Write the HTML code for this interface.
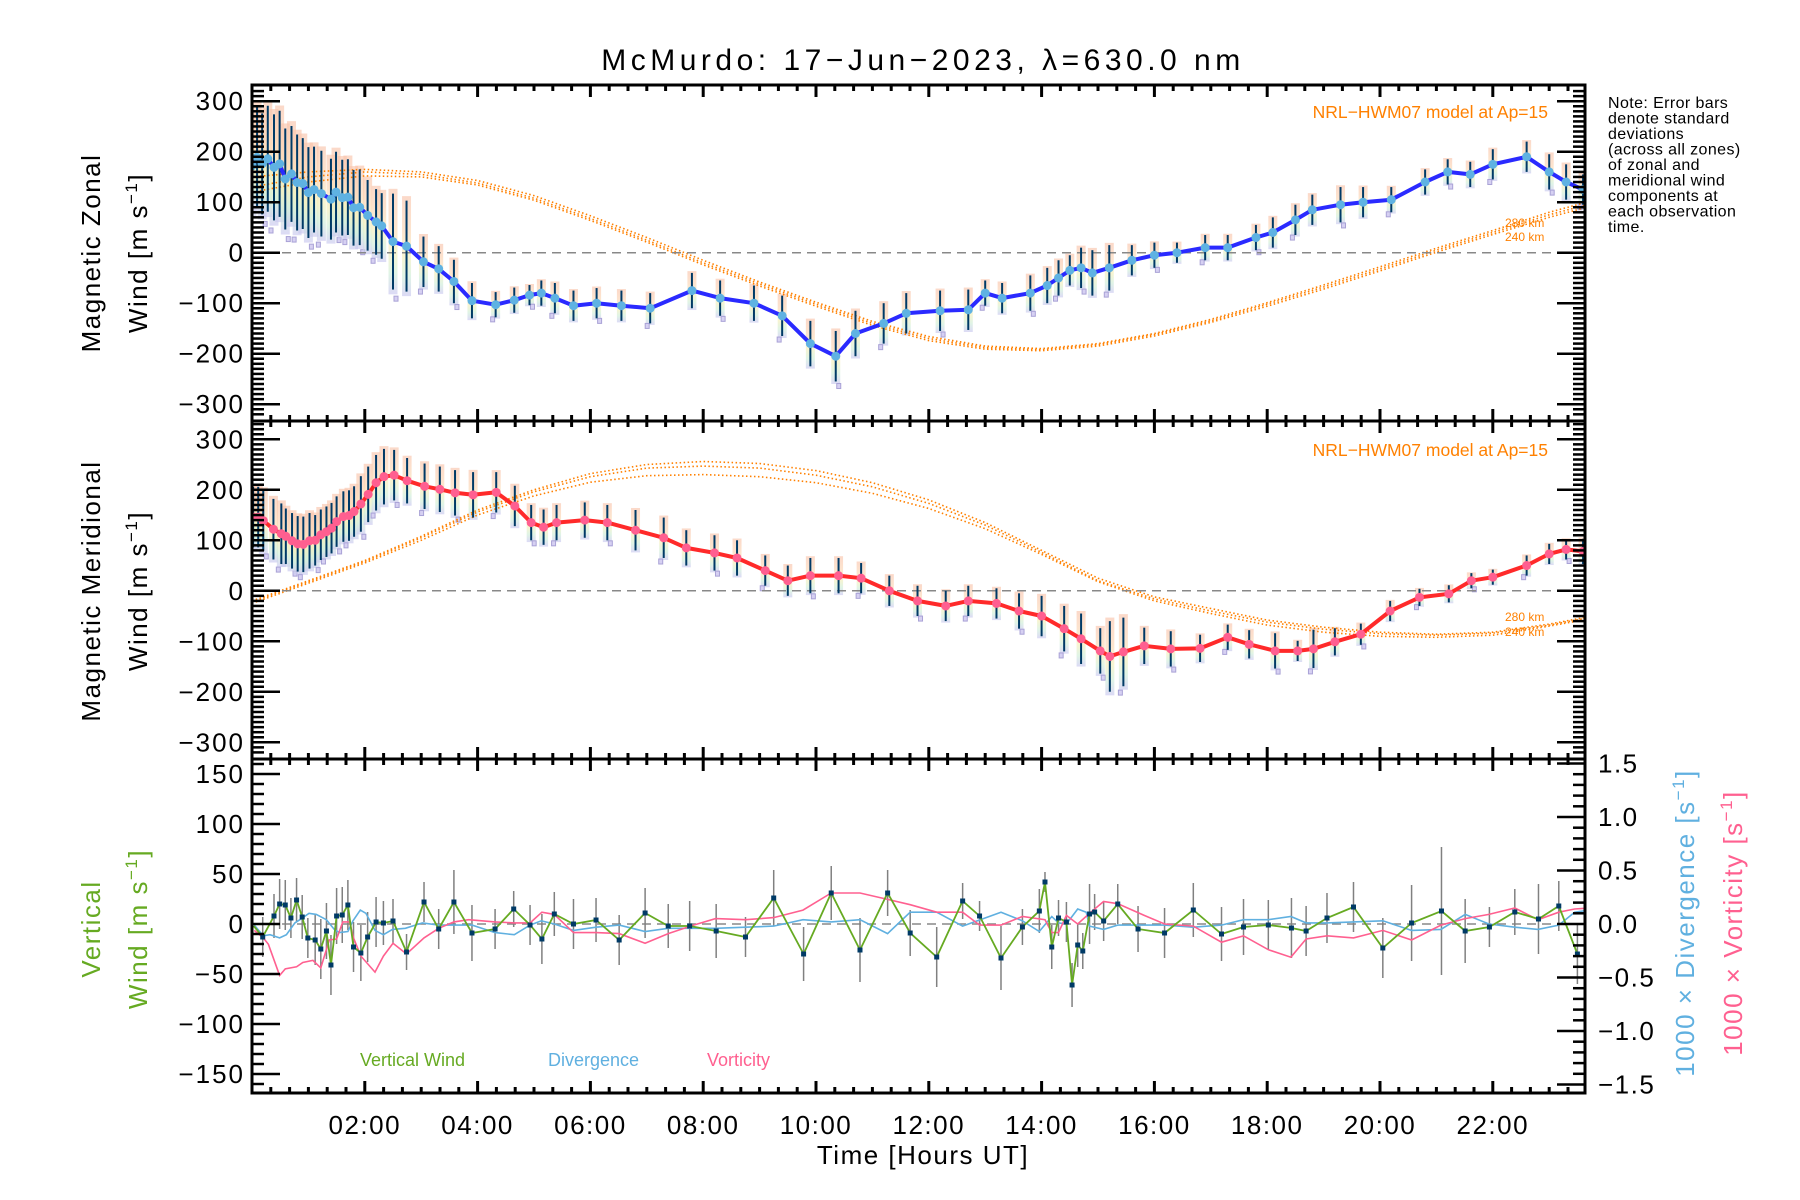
<!DOCTYPE html>
<html><head><meta charset="utf-8"><style>
html,body{margin:0;padding:0;background:#fff;}
svg{display:block;font-family:"Liberation Sans",sans-serif;}
</style></head><body>
<svg id="chart" width="1800" height="1200" viewBox="0 0 1800 1200" xmlns="http://www.w3.org/2000/svg">
<defs>
<linearGradient id="pastel" x1="0" y1="0" x2="0" y2="1">
<stop offset="0" stop-color="#f9c4ac"/><stop offset="0.35" stop-color="#fbd6b4"/><stop offset="0.6" stop-color="#f4efb8"/><stop offset="0.8" stop-color="#cfeed8"/><stop offset="1" stop-color="#c9c6f0"/>
</linearGradient>
<clipPath id="c1"><rect x="252" y="85" width="1333" height="336"/></clipPath>
<clipPath id="c2"><rect x="252" y="421" width="1333" height="338"/></clipPath>
<clipPath id="c3"><rect x="252" y="759" width="1333" height="334"/></clipPath>
</defs>
<text x="923" y="70" text-anchor="middle" font-size="30" letter-spacing="4.5">McMurdo: 17−Jun−2023, λ=630.0 nm</text>
<g id="g1" clip-path="url(#c1)"></g>
<g id="g2" clip-path="url(#c2)"></g>
<g id="g3" clip-path="url(#c3)"></g>
<g id="axes"></g>
<text x="1548" y="118" text-anchor="end" font-size="17.5" fill="#ff8000">NRL−HWM07 model at Ap=15</text>
<text x="1548" y="456" text-anchor="end" font-size="17.5" fill="#ff8000">NRL−HWM07 model at Ap=15</text>
<text x="1505" y="227" font-size="12" fill="#ff8000">280 km</text>
<text x="1505" y="241" font-size="12" fill="#ff8000">240 km</text>
<text x="1505" y="621" font-size="12" fill="#ff8000">280 km</text>
<text x="1505" y="636" font-size="12" fill="#ff8000">240 km</text>
<g font-size="16" letter-spacing="0.4">
<text x="1608" y="108">Note: Error bars</text><text x="1608" y="123.5">denote standard</text><text x="1608" y="139">deviations</text><text x="1608" y="154.5">(across all zones)</text><text x="1608" y="170">of zonal and</text><text x="1608" y="185.5">meridional wind</text><text x="1608" y="201">components at</text><text x="1608" y="216.5">each observation</text><text x="1608" y="232">time.</text>
</g>
<g font-size="26" letter-spacing="1.5">
<text transform="translate(100,253) rotate(-90)" text-anchor="middle">Magnetic Zonal</text>
<text transform="translate(147,253) rotate(-90)" text-anchor="middle">Wind [m s<tspan font-size="17" dy="-10">−1</tspan><tspan dy="10">]</tspan></text>
<text transform="translate(100,591) rotate(-90)" text-anchor="middle">Magnetic Meridional</text>
<text transform="translate(147,591) rotate(-90)" text-anchor="middle">Wind [m s<tspan font-size="17" dy="-10">−1</tspan><tspan dy="10">]</tspan></text>
<text transform="translate(100,929) rotate(-90)" text-anchor="middle" fill="#66aa22">Vertical</text>
<text transform="translate(147,929) rotate(-90)" text-anchor="middle" fill="#66aa22">Wind [m s<tspan font-size="17" dy="-10">−1</tspan><tspan dy="10">]</tspan></text>
<text transform="translate(1694,923) rotate(-90)" text-anchor="middle" fill="#60b0e0">1000 × Divergence [s<tspan font-size="17" dy="-10">−1</tspan><tspan dy="10">]</tspan></text>
<text transform="translate(1742,923) rotate(-90)" text-anchor="middle" fill="#ff6090">1000 × Vorticity [s<tspan font-size="17" dy="-10">−1</tspan><tspan dy="10">]</tspan></text>
<text x="923" y="1164" text-anchor="middle">Time [Hours UT]</text>
</g>
<text x="360" y="1066" font-size="18" fill="#66aa22">Vertical Wind</text>
<text x="548" y="1066" font-size="18" fill="#60b0e0">Divergence</text>
<text x="707" y="1066" font-size="18" fill="#ff6090">Vorticity</text>
</svg>
<script>
// ---- data ----
const zH=[0.0,0.09,0.18,0.28,0.39,0.49,0.59,0.70,0.80,0.90,1.00,1.10,1.23,1.40,1.49,1.60,1.70,1.80,1.91,2.05,2.20,2.30,2.50,2.74,3.04,3.31,3.58,3.90,4.32,4.65,4.92,5.13,5.37,5.70,6.11,6.55,7.06,7.8,8.3,8.9,9.4,9.9,10.35,10.7,11.2,11.6,12.2,12.7,13.0,13.3,13.8,14.1,14.3,14.5,14.7,14.9,15.2,15.6,16.0,16.4,16.9,17.3,17.8,18.1,18.5,18.8,19.3,19.7,20.2,20.8,21.2,21.6,22.0,22.6,23.0,23.3,23.6];
const zV=[172,189,176,186,169,176,146,156,139,137,119,125,117,106,120,109,110,89,90,74,61,53,22,13,-18,-32,-57,-95,-103,-94,-84,-80,-90,-105,-100,-105,-110,-75,-90,-100,-125,-180,-205,-160,-140,-120,-115,-113,-80,-90,-80,-65,-50,-35,-30,-40,-30,-15,-5,0,10,10,30,40,65,85,95,100,105,140,160,155,175,190,160,140,125];
const zE=[95,100,100,105,105,105,100,95,95,90,90,85,85,80,80,75,75,75,75,70,65,65,95,90,50,45,43,35,25,25,20,25,30,30,30,30,30,35,35,35,40,45,50,45,40,40,40,40,25,30,35,35,35,30,40,45,45,30,25,20,25,25,25,30,30,30,35,30,25,25,25,25,30,30,35,35,30];
const mH=[0.02,0.11,0.20,0.38,0.52,0.60,0.71,0.81,0.91,1.02,1.12,1.22,1.32,1.41,1.50,1.62,1.72,1.81,1.93,2.06,2.20,2.34,2.52,2.75,3.06,3.33,3.60,3.92,4.33,4.66,4.95,5.17,5.4,5.9,6.3,6.8,7.3,7.7,8.2,8.6,9.1,9.5,9.9,10.4,10.8,11.3,11.8,12.3,12.7,13.2,13.6,14.0,14.4,14.7,15.04,15.21,15.45,15.82,16.29,16.81,17.30,17.68,18.14,18.54,18.82,19.20,19.66,20.18,20.70,21.22,21.62,22.0,22.6,23.0,23.3,23.6];
const mV=[146,146,139,122,113,108,99,93,92,99,100,111,117,124,137,147,149,157,172,191,214,226,229,218,207,201,194,190,195,168,135,126,135,140,135,120,105,85,75,65,40,20,30,30,25,0,-20,-30,-20,-25,-40,-50,-75,-95,-119,-130,-121,-109,-115,-114,-92,-106,-119,-119,-115,-101,-86,-40,-13,-6,20,27,50,73,82,78];
const mE=[60,60,60,60,60,55,55,55,55,55,50,50,50,50,50,50,50,50,55,55,55,55,50,45,45,45,45,45,40,40,35,35,35,35,35,40,40,35,35,35,30,30,35,35,30,30,30,30,30,30,35,40,45,50,45,70,68,36,35,27,25,28,35,20,38,27,21,20,17,17,15,15,20,20,20,25];
const modelHours=[0,1,2,3,4,5,6,7,8,9,10,11,12,13,14,15,16,17,18,19,20,21,22,23,24];
const mzA=[150,160,165,160,143,113,73,30,-15,-58,-98,-136,-166,-185,-190,-180,-160,-132,-99,-64,-28,9,44,80,110];
const mzB=[130,150,160,155,138,108,68,25,-20,-62,-102,-140,-170,-188,-192,-182,-162,-135,-102,-68,-32,5,40,75,105];
const mzC=[120,140,152,150,134,104,64,21,-24,-66,-106,-144,-174,-191,-194,-185,-165,-138,-106,-72,-36,1,36,70,100];
const mmA=[-20,20,60,108,160,200,232,250,256,252,238,214,180,135,80,25,-12,-35,-58,-72,-82,-86,-82,-66,-45];
const mmB=[-22,18,58,105,156,196,226,243,247,243,229,206,173,130,76,20,-16,-40,-62,-76,-85,-88,-84,-68,-47];
const mmC=[-25,15,55,100,150,188,215,228,230,226,214,193,163,123,72,18,-20,-45,-68,-82,-90,-92,-88,-70,-50];
const vH=[0.03,0.19,0.39,0.49,0.59,0.69,0.79,0.89,0.99,1.12,1.22,1.32,1.40,1.50,1.60,1.70,1.80,1.93,2.05,2.20,2.33,2.50,2.74,3.05,3.31,3.58,3.90,4.31,4.64,4.93,5.14,5.36,5.70,6.10,6.51,6.97,7.38,7.76,8.23,8.75,9.25,9.78,10.27,10.78,11.27,11.67,12.14,12.60,12.90,13.28,13.66,13.96,14.06,14.18,14.30,14.44,14.54,14.64,14.73,14.85,14.94,15.10,15.35,15.71,16.18,16.69,17.19,17.58,18.02,18.43,18.69,19.06,19.53,20.05,20.56,21.09,21.51,21.94,22.39,22.81,23.17,23.5];
const vV=[-2,-13,8,20,19,6,24,7,-14,-16,-25,-7,-41,8,9,19,-23,-29,-13,2,1,3,-28,22,-5,22,-9,-5,15,-1,-15,10,0,4,-16,11,-2,-2,-7,-13,26,-30,31,-26,31,-9,-33,23,8,-34,-3,13,42,-23,6,2,-61,-21,-27,10,12,3,20,-5,-9,14,-10,-3,-1,-4,-7,6,17,-24,1,13,-7,-3,12,5,18,-30];
const vE=[0,20,22,25,25,20,22,22,20,25,30,28,30,28,28,25,25,28,25,25,22,22,18,20,20,32,28,20,18,20,25,22,25,22,25,25,22,25,27,20,28,27,27,32,23,23,30,18,15,32,18,22,10,22,18,20,22,22,18,30,18,20,20,23,25,27,27,28,25,30,25,25,25,30,38,64,32,20,23,35,25,30,0];
const dH=[0.04,0.20,0.32,0.49,0.61,0.76,0.85,1.01,1.14,1.32,1.46,1.55,1.70,1.79,1.92,2.02,2.18,2.33,2.49,2.72,3.02,3.31,3.90,4.31,4.65,4.93,5.13,5.36,5.70,6.10,6.51,6.97,7.38,7.83,8.22,8.75,9.25,9.77,10.27,10.78,11.27,11.67,12.14,12.60,13.28,13.66,13.96,14.18,14.30,14.44,14.64,14.79,14.85,15.10,15.35,15.82,16.18,16.69,17.19,17.58,18.02,18.42,18.69,19.06,19.53,20.05,20.56,21.08,21.51,21.93,22.39,22.80,23.17,23.45,23.7];
const dV=[-0.01,-0.11,-0.10,-0.13,-0.10,0.01,0.04,0.10,0.09,0.04,-0.05,-0.08,-0.07,0.03,0.13,0.10,-0.06,-0.10,-0.05,-0.04,0.01,-0.01,-0.01,-0.08,-0.10,-0.01,0.03,0.00,-0.06,-0.03,-0.01,-0.07,-0.04,-0.04,-0.04,-0.03,-0.02,0.04,0.02,0.04,-0.09,0.11,0.11,-0.02,0.11,0.03,-0.07,0.07,0.01,0.00,0.14,0.11,-0.02,-0.05,-0.01,-0.01,-0.01,-0.03,-0.01,0.04,0.04,0.07,0.01,0.01,0.02,0.03,-0.06,-0.05,0.09,0.00,-0.03,-0.05,-0.01,0.11,0.13];
const wH=[0.04,0.20,0.29,0.49,0.59,0.79,0.90,1.08,1.22,1.37,1.50,1.61,1.73,1.80,1.93,2.18,2.33,2.50,2.74,3.05,3.31,3.58,3.84,4.31,4.65,4.93,5.14,5.36,5.70,6.10,6.51,6.97,7.38,7.83,8.22,8.75,9.25,9.77,10.27,10.78,11.27,11.67,12.14,12.60,12.90,13.28,13.66,14.06,14.18,14.30,14.44,14.64,14.85,15.10,15.35,15.82,16.18,16.69,17.19,17.58,18.02,18.42,18.69,19.06,19.53,20.05,20.56,21.08,21.51,21.93,22.39,22.80,23.17,23.45,23.7];
const wV=[-0.06,-0.13,-0.19,-0.48,-0.42,-0.40,-0.36,-0.34,-0.41,-0.15,-0.14,0.02,0.02,-0.13,-0.30,-0.45,-0.30,-0.18,-0.28,-0.13,-0.04,0.02,0.04,0.02,0.01,0.01,0.11,0.09,-0.08,-0.08,-0.09,-0.18,-0.09,-0.01,0.05,0.04,0.06,0.13,0.29,0.29,0.23,0.18,0.11,0.11,-0.01,-0.01,0.07,0.04,-0.08,-0.08,0.08,0.00,0.10,0.21,0.19,0.08,0.00,-0.02,-0.17,-0.11,-0.24,-0.31,-0.14,-0.11,-0.13,-0.06,-0.15,-0.01,0.05,0.09,0.15,0.04,0.11,0.14,0.15];
const xTickLabels=["02:00","04:00","06:00","08:00","10:00","12:00","14:00","16:00","18:00","20:00","22:00"];
const windTicks=[-300,-200,-100,0,100,200,300];
const vertTicks=[-150,-100,-50,0,50,100,150];
const rightTicks=[-1.5,-1.0,-0.5,0.0,0.5,1.0,1.5];

// ---- scales ----
const NS="http://www.w3.org/2000/svg";
const L=252,R=1585,HMAX=(R-L)/56.4;
const X=h=>L+h*56.4;
const Y1=v=>252.7-v*0.505;
const Y2=v=>590.8-v*0.505;
const Y3=v=>924-v*1.0;
const YR=v=>924-v*107;
function mk(tag,attrs,parent){const e=document.createElementNS(NS,tag);for(const k in attrs)e.setAttribute(k,attrs[k]);parent.appendChild(e);return e;}
function pts(hs,vs,ys){return hs.map((h,i)=>X(h).toFixed(1)+","+ys(vs[i]).toFixed(1)).join(" ");}

function windPanel(g,hs,vs,es,ys,lineCol,ptCol,models,nm){
  hs.forEach((h,i)=>{
    const r=mk('rect',{x:X(h)-4.5,y:ys(vs[i]+es[i]*1.1),width:9,height:es[i]*2.2*0.505,fill:'url(#pastel)',opacity:0.65},g);
    
    
    if(i%2===0){
      const s=mk('rect',{x:X(h)-2+(i%4?3:-3),y:ys(vs[i]-es[i]*1.2)-3,width:4,height:5,fill:'#d6d0f2',stroke:'#a9a2d6','stroke-width':1},g);
      
      
    }
  });
  models.forEach((m,k)=>{
    const p=mk('polyline',{points:pts(modelHours,m,ys),fill:'none',stroke:'#ff8000','stroke-width':1.6,'stroke-dasharray':'1.5 2.5'},g);
    
    
  });
  const z=mk('line',{x1:L,x2:R,y1:ys(0),y2:ys(0),stroke:'#888','stroke-width':1.5,'stroke-dasharray':'9 6'},g);
  
  
  hs.forEach((h,i)=>{
    const e=mk('line',{x1:X(h),x2:X(h),y1:ys(vs[i]+es[i]),y2:ys(vs[i]-es[i]),stroke:'#003a66','stroke-width':2},g);
    
    
  });
  const ln=mk('polyline',{points:pts(hs,vs,ys),fill:'none',stroke:lineCol,'stroke-width':4,'stroke-linejoin':'round'},g);
  
  
  hs.forEach((h,i)=>{
    const c=mk('circle',{cx:X(h),cy:ys(vs[i]),r:4.5,fill:ptCol},g);
    
    
  });
}
windPanel(document.getElementById('g1'),zH,zV,zE,Y1,'#2a2aff','#5fb2e2',[mzA,mzB,mzC],'zonal');
windPanel(document.getElementById('g2'),mH,mV,mE,Y2,'#ff2a2a','#ff5f90',[mmA,mmB,mmC],'meridional');

const g3=document.getElementById('g3');
const z3=mk('line',{x1:L,x2:R,y1:Y3(0),y2:Y3(0),stroke:'#888','stroke-width':1.5,'stroke-dasharray':'9 6'},g3);


vH.forEach((h,i)=>{ if(vE[i]>0){
  const e=mk('line',{x1:X(h),x2:X(h),y1:Y3(vV[i]+vE[i]),y2:Y3(vV[i]-vE[i]),stroke:'#808080','stroke-width':1.5},g3);
  
  
}});
const dl=mk('polyline',{points:pts(dH,dV,YR),fill:'none',stroke:'#60b0e0','stroke-width':1.6},g3);


const wl=mk('polyline',{points:pts(wH,wV,YR),fill:'none',stroke:'#ff6090','stroke-width':1.6},g3);


const vl=mk('polyline',{points:pts(vH,vV,Y3),fill:'none',stroke:'#66aa22','stroke-width':1.8},g3);


vH.forEach((h,i)=>{ if(vE[i]>0){
  const s=mk('rect',{x:X(h)-2.5,y:Y3(vV[i])-2.5,width:5,height:5,fill:'#003a66'},g3);
  
  
}});

const ax=document.getElementById('axes');
const panels=[{top:85,bot:421,ys:Y1,ticks:windTicks,minor:10,right:'same'},{top:421,bot:759,ys:Y2,ticks:windTicks,minor:10,right:'same'},{top:759,bot:1093,ys:Y3,ticks:vertTicks,minor:10,right:'r'}];
panels.forEach((p,pi)=>{
  const fr=mk('rect',{x:L,y:p.top,width:R-L,height:p.bot-p.top,fill:'none',stroke:'#000','stroke-width':3},ax);
  
  
  for(let m=20;m<HMAX*60;m+=20){
    const len=(m%120===0)?12:6, x=X(m/60);
    mk('line',{x1:x,x2:x,y1:p.top,y2:p.top+len,stroke:'#000','stroke-width':3},ax);
    mk('line',{x1:x,x2:x,y1:p.bot,y2:p.bot-len,stroke:'#000','stroke-width':3},ax);
  }
  const lo=p.ticks[0],hi=p.ticks[p.ticks.length-1];
  for(let v=lo-30;v<=hi+30;v+=p.minor){
    const y=p.ys(v); if(y<p.top+2||y>p.bot-2) continue;
    const major=p.ticks.includes(v);
    const len=major?28:12;
    mk('line',{x1:L,x2:L+len,y1:y,y2:y,stroke:'#000','stroke-width':2.5},ax);
    if(p.right==='same') mk('line',{x1:R,x2:R-len,y1:y,y2:y,stroke:'#000','stroke-width':2.5},ax);
  }
  p.ticks.forEach(v=>{
    const t=mk('text',{x:245,y:p.ys(v)+9,'text-anchor':'end','font-size':26,'letter-spacing':2},ax);
    t.textContent=(v<0?'−':'')+Math.abs(v);
    
    
  });
  if(p.right==='r'){
    for(let k=-16;k<=16;k++){
      const v=k/10,y=YR(v); if(y<p.top+2||y>p.bot-2) continue;
      const len=(k%5===0)?28:12;
      mk('line',{x1:R,x2:R-len,y1:y,y2:y,stroke:'#000','stroke-width':2.5},ax);
    }
    rightTicks.forEach(v=>{
      const t=mk('text',{x:1598,y:YR(v)+9,'font-size':26,'letter-spacing':1.5},ax);
      t.textContent=(v<0?'−':'')+Math.abs(v).toFixed(1);
      
      
    });
  }
});
xTickLabels.forEach((s,i)=>{
  const t=mk('text',{x:X(2*(i+1)),y:1134,'text-anchor':'middle','font-size':26,'letter-spacing':1.5},ax);
  t.textContent=s;
  
  
});
</script>
</body></html>
